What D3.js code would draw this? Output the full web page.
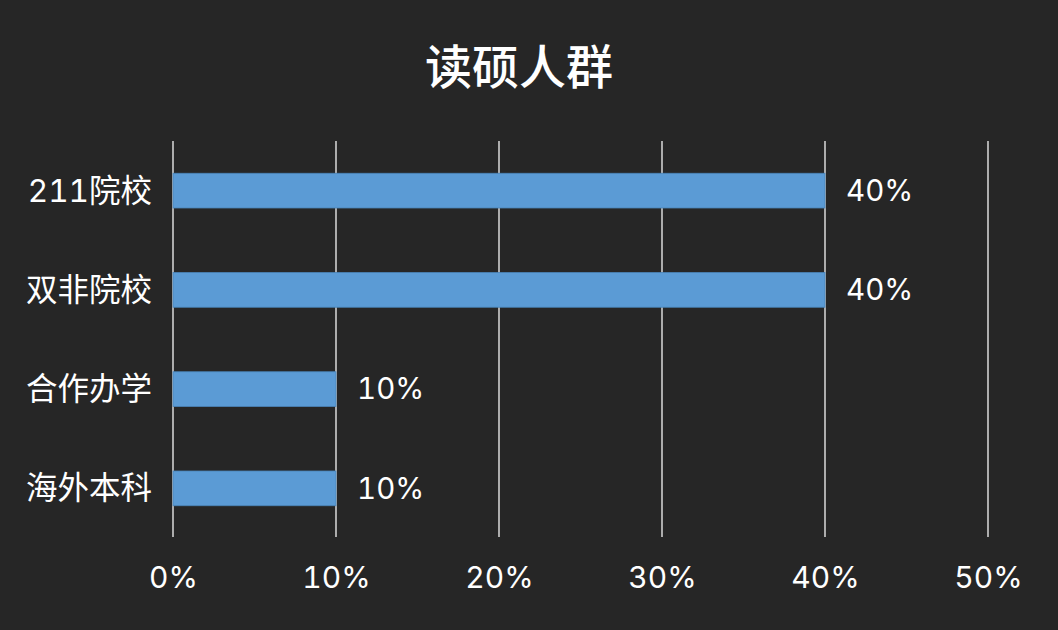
<!DOCTYPE html>
<html><head><meta charset="utf-8">
<script src="https://cdn.jsdelivr.net/npm/d3@7"></script>
<style>html,body{margin:0;padding:0;background:#262626;}</style>
</head><body>
<script>
const title = "读硕人群";
const categories = ["211院校", "双非院校", "合作办学", "海外本科"];
const values = [0.40, 0.40, 0.10, 0.10];
const tickValues = [0, 0.1, 0.2, 0.3, 0.4, 0.5];

const W = 1058, H = 630;
const font = "Inter, 'Noto Sans CJK SC', 'Noto Sans', sans-serif";
const svg = d3.select("body").append("svg").attr("width", W).attr("height", H)
  .style("background", "#262626");

const x = d3.scaleLinear().domain([0, 0.5]).range([173, 988]);
const y = d3.scaleBand().domain(categories).range([141, 538]).paddingInner(0.65).paddingOuter(0.325);
const fmt = d3.format(".0%");

svg.append("text").attr("x", 519).attr("y", 66).attr("text-anchor", "middle")
  .attr("dominant-baseline", "central").attr("fill", "#ffffff")
  .attr("font-family", font).attr("font-size", 47).attr("font-weight", 500).text(title);

// gridlines
svg.append("g").selectAll("line").data(tickValues).join("line")
  .attr("x1", d => x(d)).attr("x2", d => x(d))
  .attr("y1", 141).attr("y2", 537)
  .attr("stroke", "#d0d0d0").attr("stroke-width", 1.6);

// x axis labels
const xAxis = d3.axisBottom(x).tickValues(tickValues).tickFormat(fmt).tickSize(0).tickPadding(0);
const gx = svg.append("g").attr("transform", "translate(0,577)").call(xAxis);
gx.select(".domain").remove();
gx.selectAll("text").attr("fill", "#ffffff").attr("font-family", font).attr("font-size", 30)
  .attr("dy", "0.35em").style("font-variant-numeric", "tabular-nums");

// y axis labels
const yAxis = d3.axisLeft(y).tickSize(0).tickPadding(0);
const gy = svg.append("g").attr("transform", "translate(152,0)").call(yAxis);
gy.select(".domain").remove();
gy.selectAll("text").attr("fill", "#ffffff").attr("font-family", font).attr("font-size", 31.5)
  .attr("dy", "0.35em").style("font-variant-numeric", "tabular-nums");

// bars
svg.append("g").selectAll("rect").data(categories).join("rect")
  .attr("x", x(0)).attr("y", d => y(d))
  .attr("width", (d, i) => x(values[i]) - x(0)).attr("height", y.bandwidth())
  .attr("fill", "#5B9BD5").attr("stroke", "#4a84b8").attr("stroke-width", 0.8);

// value labels
svg.append("g").selectAll("text").data(categories).join("text")
  .attr("x", (d, i) => x(values[i]) + 21).attr("y", d => y(d) + y.bandwidth() / 2)
  .attr("dy", "0.35em").attr("fill", "#ffffff").attr("font-family", font).attr("font-size", 29.5)
  .style("font-variant-numeric", "tabular-nums")
  .text((d, i) => fmt(values[i]));
</script>
</body></html>
